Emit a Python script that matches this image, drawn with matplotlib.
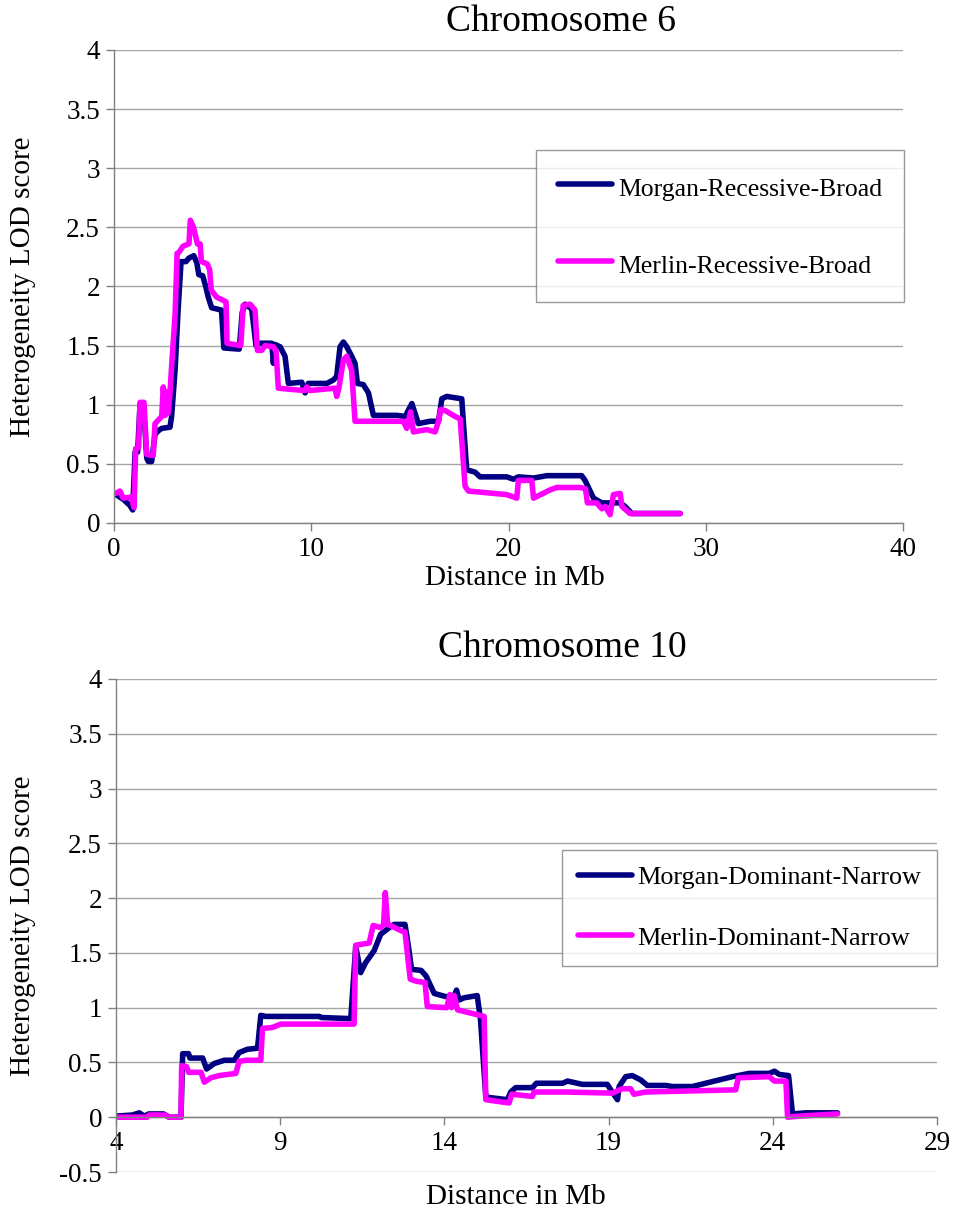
import matplotlib
matplotlib.use("Agg")
import matplotlib.pyplot as plt

plt.rcParams['font.family'] = ['Liberation Serif', 'DejaVu Serif']

# Chromosome 6 (Recessive-Broad)
chr6_morgan_x = [0.1, 0.47, 0.8, 0.95, 1.07, 1.2, 1.32, 1.5, 1.66, 1.74, 1.91, 2.08, 2.25, 2.42, 2.84, 2.92,
                 3.1, 3.25, 3.4, 3.65, 3.8, 4.05, 4.2, 4.3, 4.5, 4.65, 4.78, 4.95, 5.45, 5.57, 6.35, 6.5, 6.65,
                 6.98, 7.2, 7.4, 7.74, 8.0, 8.08, 8.15, 8.42, 8.67, 8.84, 9.52, 9.69, 9.85, 10.79, 11.13, 11.29,
                 11.46, 11.63, 11.8, 12.05, 12.22, 12.34, 12.64, 12.9, 13.15, 14.34, 14.76, 15.1, 15.43, 16.02,
                 16.45, 16.62, 16.87, 17.63, 17.88, 18.3, 18.56, 19.91, 20.25, 20.5, 21.27, 21.94, 23.71, 23.88,
                 24.31, 24.73, 25.66, 25.91, 26.25, 28.71]
chr6_morgan_y = [0.24, 0.2, 0.15, 0.11, 0.6, 0.6, 1.0, 1.0, 0.55, 0.52, 0.52, 0.75, 0.78, 0.8, 0.81, 0.9,
                 1.3, 1.8, 2.21, 2.21, 2.24, 2.26, 2.2, 2.1, 2.09, 2.0, 1.91, 1.82, 1.8, 1.48, 1.47, 1.78, 1.85,
                 1.81, 1.5, 1.52, 1.52, 1.52, 1.35, 1.51, 1.49, 1.41, 1.18, 1.19, 1.1, 1.18, 1.18, 1.21, 1.24,
                 1.49, 1.53, 1.49, 1.41, 1.35, 1.18, 1.17, 1.1, 0.91, 0.91, 0.9, 1.01, 0.84, 0.86,
                 0.86, 1.05, 1.07, 1.05, 0.45, 0.43, 0.39, 0.39, 0.37, 0.39, 0.38, 0.4, 0.4, 0.36,
                 0.21, 0.17, 0.17, 0.14, 0.08, 0.08]

chr6_merlin_x = [0.1, 0.3, 0.47, 0.9, 0.95, 1.02, 1.1, 1.25, 1.32, 1.52, 1.66, 1.99, 2.08, 2.3, 2.42, 2.5,
                 2.6, 2.7, 2.75, 2.84, 2.92, 3.1, 3.2, 3.3, 3.5, 3.8, 3.87, 4.03, 4.23, 4.37, 4.43, 4.73, 4.85,
                 4.93, 5.2, 5.45, 5.68, 5.73, 6.07, 6.43, 6.55, 6.9, 7.15, 7.27, 7.49, 7.66, 8.08, 8.22, 8.33,
                 8.93, 9.69, 9.77, 9.94, 11.21, 11.29, 11.4, 11.63, 11.8, 12.05, 12.22, 12.81, 14.67, 14.84,
                 15.04, 15.18, 15.86, 16.28, 16.45, 16.57, 16.8, 17.3, 17.55, 17.8, 17.97, 19.91, 20.42, 20.5,
                 21.18, 21.27, 22.11, 22.44, 23.63, 23.9, 24.0, 24.47, 24.73, 24.9, 25.15, 25.32, 25.66, 25.75,
                 26.16, 28.71]
chr6_merlin_y = [0.25, 0.27, 0.21, 0.22, 0.17, 0.13, 0.63, 0.64, 1.02, 1.02, 0.58, 0.57, 0.84, 0.88, 0.9,
                 1.15, 0.91, 1.11, 0.93, 1.1, 1.32, 1.77, 2.28, 2.29, 2.34, 2.36, 2.56, 2.5, 2.36, 2.36, 2.21,
                 2.19, 2.14, 1.97, 1.91, 1.89, 1.87, 1.52, 1.51, 1.5, 1.84, 1.85, 1.8, 1.46, 1.46, 1.5, 1.49,
                 1.45, 1.14, 1.13, 1.12, 1.15, 1.12, 1.14, 1.07, 1.14, 1.38, 1.41, 1.29, 0.86, 0.86, 0.86, 0.8,
                 0.94, 0.77, 0.79, 0.77, 0.86, 0.96, 0.95, 0.9, 0.88, 0.31, 0.27, 0.24, 0.21, 0.36,
                 0.36, 0.21, 0.28, 0.3, 0.3, 0.29, 0.17, 0.17, 0.12, 0.14, 0.07, 0.24, 0.25, 0.14,
                 0.08, 0.08]

# Chromosome 10 (Dominant-Narrow)
chr10_morgan_x = [4.0, 4.5, 4.71, 4.86, 5.0, 5.45, 5.62, 5.98, 6.03, 6.21, 6.25, 6.64, 6.76, 6.99, 7.3, 7.6,
                  7.75, 8.0, 8.31, 8.41, 8.56, 10.19, 10.25, 11.15, 11.3, 11.45, 11.6, 11.86, 12.06, 12.32,
                  12.47, 12.8, 12.9, 13.0, 13.29, 13.44, 13.69, 14.05, 14.3, 14.37, 14.45, 14.6, 15.0, 15.1,
                  15.26, 15.36, 15.92, 16.02, 16.17, 16.68, 16.8, 17.6, 17.75, 18.2, 18.96, 19.11, 19.27,
                  19.32, 19.52, 19.72, 19.98, 20.18, 20.74, 20.94, 21.55, 22.36, 22.77, 23.28, 23.89, 24.05,
                  24.2, 24.48, 24.6, 25.0, 25.97]
chr10_morgan_y = [0.01, 0.02, 0.04, 0.01, 0.03, 0.03, 0.0, 0.0, 0.58, 0.58, 0.54, 0.54, 0.44, 0.49, 0.52,
                  0.52, 0.59, 0.62, 0.63, 0.93, 0.92, 0.92, 0.91, 0.9, 1.56, 1.32, 1.41, 1.52, 1.67, 1.73,
                  1.76, 1.76, 1.57, 1.35, 1.34, 1.29, 1.13, 1.1, 1.11, 1.16, 1.07, 1.09, 1.11, 0.89,
                  0.19, 0.18, 0.16, 0.23, 0.27, 0.27, 0.31, 0.31, 0.33, 0.3, 0.3, 0.23, 0.16,
                  0.28, 0.37, 0.38, 0.34, 0.29, 0.29, 0.28, 0.28, 0.34, 0.37, 0.4, 0.4, 0.42,
                  0.39, 0.38, 0.03, 0.04, 0.04]

chr10_merlin_x = [4.0, 4.95, 5.01, 5.5, 5.62, 5.98, 6.0, 6.15, 6.21, 6.59, 6.69, 6.89, 7.14, 7.65, 7.75,
                  7.96, 8.41, 8.46, 8.77, 9.02, 10.59, 11.25, 11.3, 11.71, 11.83, 12.06, 12.15, 12.2, 12.27,
                  12.35, 12.7, 12.8, 12.96, 13.16, 13.41, 13.48, 14.07, 14.17, 14.22, 14.3, 14.4, 15.21,
                  15.26, 15.97, 16.05, 16.68, 16.73, 17.7, 19.11, 19.42, 19.67, 19.77, 20.13, 22.87, 22.95,
                  23.89, 24.05, 24.4, 24.45, 24.8, 25.97]
chr10_merlin_y = [0.0, 0.0, 0.02, 0.02, 0.0, 0.0, 0.47, 0.46, 0.41, 0.41, 0.32, 0.36, 0.38, 0.4, 0.51,
                  0.52, 0.52, 0.81, 0.82, 0.85, 0.85, 0.85, 1.57, 1.59, 1.75, 1.73, 1.76, 2.05, 1.76,
                  1.75, 1.7, 1.69, 1.26, 1.24, 1.23, 1.01, 1.0, 1.12, 1.0, 1.11, 0.98, 0.92,
                  0.16, 0.13, 0.21, 0.19, 0.23, 0.23, 0.22, 0.26, 0.26, 0.21, 0.23, 0.25, 0.36,
                  0.37, 0.33, 0.33, 0.0, 0.01, 0.03]

navy = '#000080'
magenta = '#FF00FF'
grid_c = '#A6A6A6'
lw = 4.0

fig = plt.figure(figsize=(9.57, 12.12), dpi=100)
ax1 = fig.add_axes([0.1191, 0.5685, 0.8245, 0.3903])
ax2 = fig.add_axes([0.1212, 0.0330, 0.8579, 0.4068])


def style_axes(ax):
    for side in ['top', 'right']:
        ax.spines[side].set_visible(False)
    for side in ['left', 'bottom']:
        ax.spines[side].set_color('#808080')
        ax.spines[side].set_linewidth(1.0)
    ax.yaxis.grid(True, color=grid_c, linewidth=1.0)
    ax.set_axisbelow(True)
    ax.tick_params(axis='both', direction='out', length=6, width=1.0, color='#808080',
                   labelsize=19.5, pad=4)


# Chromosome 6
ax1.plot(chr6_morgan_x, chr6_morgan_y, color=navy, lw=lw, label='Morgan-Recessive-Broad',
         solid_joinstyle='round', solid_capstyle='round')
ax1.plot(chr6_merlin_x, chr6_merlin_y, color=magenta, lw=lw, label='Merlin-Recessive-Broad',
         solid_joinstyle='round', solid_capstyle='round')
ax1.set_xlim(0, 40)
ax1.set_ylim(0, 4)
ax1.set_xticks([0, 10, 20, 30, 40])
ax1.set_yticks([0, 0.5, 1, 1.5, 2, 2.5, 3, 3.5, 4])
ax1.set_yticklabels(['0', '0.5', '1', '1.5', '2', '2.5', '3', '3.5', '4'])
style_axes(ax1)
ax1.set_ylabel('Heterogeneity LOD score', fontsize=21)
ax1.yaxis.set_label_coords(-0.099, 0.5)
ax1.set_xlabel('Distance in Mb', fontsize=21)
ax1.xaxis.label.set_va('center')
ax1.xaxis.set_label_coords(0.508, -0.117)
leg1 = ax1.legend(loc='upper left', bbox_to_anchor=(0.535, 0.789), fontsize=18.5, frameon=True,
                  fancybox=False, edgecolor='#808080', borderpad=0.85, labelspacing=1.8,
                  handleheight=1.48, handlelength=2.1, handletextpad=0.23, borderaxespad=0)
leg1.get_frame().set_linewidth(1.0)

# Chromosome 10
ax2.plot(chr10_morgan_x, chr10_morgan_y, color=navy, lw=lw, label='Morgan-Dominant-Narrow',
         solid_joinstyle='round', solid_capstyle='round')
ax2.plot(chr10_merlin_x, chr10_merlin_y, color=magenta, lw=lw, label='Merlin-Dominant-Narrow',
         solid_joinstyle='round', solid_capstyle='round')
ax2.set_xlim(4, 29)
ax2.set_ylim(-0.5, 4)
ax2.set_xticks([4, 9, 14, 19, 24, 29])
ax2.set_yticks([-0.5, 0, 0.5, 1, 1.5, 2, 2.5, 3, 3.5, 4])
ax2.set_yticklabels(['-0.5', '0', '0.5', '1', '1.5', '2', '2.5', '3', '3.5', '4'])
style_axes(ax2)
ax2.spines['bottom'].set_position(('data', 0))
ax2.set_ylabel('Heterogeneity LOD score', fontsize=21)
ax2.yaxis.set_label_coords(-0.097, 0.5)
ax2.set_xlabel('Distance in Mb', fontsize=21)
ax2.xaxis.label.set_va('center')
ax2.xaxis.set_label_coords(0.487, -0.05)
leg2 = ax2.legend(loc='upper left', bbox_to_anchor=(0.543, 0.653), fontsize=18.8, frameon=True,
                  fancybox=False, edgecolor='#808080', borderpad=0.61, labelspacing=1.42,
                  handlelength=2.07, handletextpad=0.2, borderaxespad=0)
leg2.get_frame().set_linewidth(1.0)

fig.text(561 / 957, 1 - 22 / 1212, 'Chromosome 6', fontsize=27, ha='center', va='center')
fig.text(562 / 957, 1 - 648 / 1212, 'Chromosome 10', fontsize=27, ha='center', va='center')

fig.savefig('out.png', dpi=100)
